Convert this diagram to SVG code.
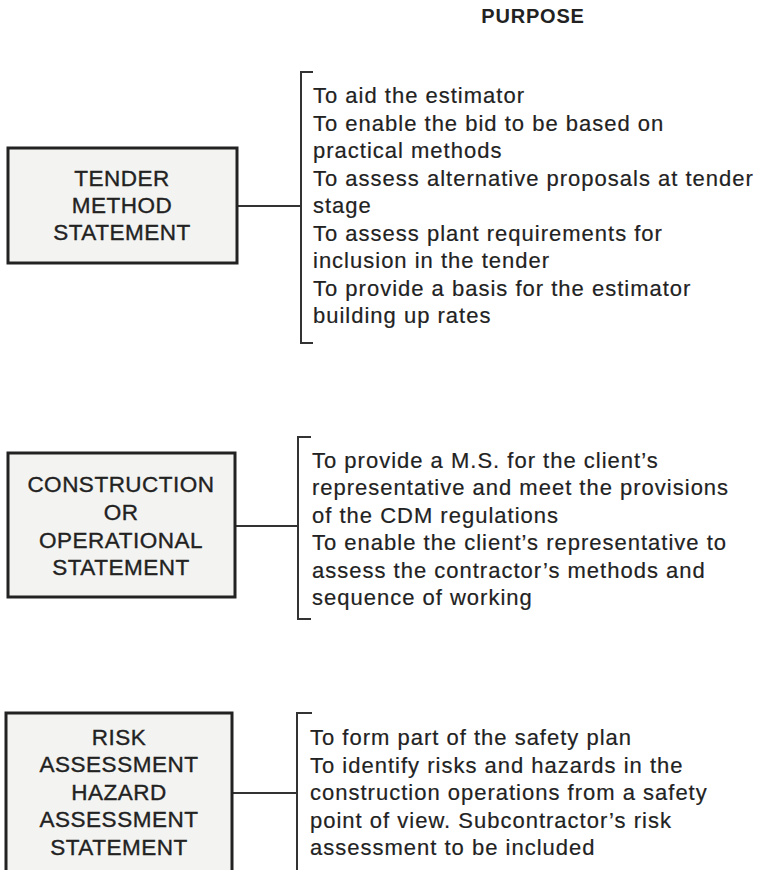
<svg xmlns="http://www.w3.org/2000/svg" width="760" height="870" viewBox="0 0 760 870">
  <style>
    .box { fill: #f3f3f1; stroke: #222; stroke-width: 3; }
    .box-label { font-family: "Liberation Sans", Arial, sans-serif; font-size: 22.5px; letter-spacing: 0.5px; fill: #222; stroke: #222; stroke-width: 0.35; text-anchor: middle; }
    .purpose { font-family: "Liberation Sans", Arial, sans-serif; font-size: 22px; letter-spacing: 1px; fill: #222; stroke: #222; stroke-width: 0.2; }
    .heading { font-family: "Liberation Sans", Arial, sans-serif; font-size: 20px; font-weight: bold; letter-spacing: 0.8px; fill: #222; text-anchor: middle; }
    .link { fill: none; stroke: #333; stroke-width: 2; }
  </style>
  <rect width="760" height="870" fill="#ffffff"/>

  <text id="heading" class="heading" x="533" y="23">PURPOSE</text>

  <!-- connectors: stub lines from each box and the brackets holding the purpose lists -->
  <g id="connectors">
    <line class="link" x1="237" y1="206" x2="301" y2="206"/>
    <polyline class="link" points="313,72 301,72 301,343 313,343"/>
    <line class="link" x1="235" y1="526" x2="298" y2="526"/>
    <polyline class="link" points="311,437 298,437 298,619 311,619"/>
    <line class="link" x1="232" y1="793" x2="297" y2="793"/>
    <polyline class="link" points="312,713 297,713 297,875"/>
  </g>

  <g id="tender-method-statement">
    <rect class="box" x="8" y="148" width="229" height="115"/>
    <text class="box-label" x="122" y="186">TENDER</text>
    <text class="box-label" x="122" y="213">METHOD</text>
    <text class="box-label" x="122" y="240">STATEMENT</text>
  </g>

  <g id="construction-statement">
    <rect class="box" x="8" y="453" width="227" height="144"/>
    <text class="box-label" x="121" y="492">CONSTRUCTION</text>
    <text class="box-label" x="121" y="520">OR</text>
    <text class="box-label" x="121" y="548">OPERATIONAL</text>
    <text class="box-label" x="121" y="575">STATEMENT</text>
  </g>

  <g id="risk-assessment-statement">
    <rect class="box" x="6" y="713" width="226" height="170"/>
    <text class="box-label" x="119" y="745">RISK</text>
    <text class="box-label" x="119" y="772">ASSESSMENT</text>
    <text class="box-label" x="119" y="800">HAZARD</text>
    <text class="box-label" x="119" y="827">ASSESSMENT</text>
    <text class="box-label" x="119" y="855">STATEMENT</text>
  </g>

  <g id="tender-purpose">
    <text class="purpose" x="313" y="103">To aid the estimator</text>
    <text class="purpose" x="313" y="130.5">To enable the bid to be based on</text>
    <text class="purpose" x="313" y="158">practical methods</text>
    <text class="purpose" x="313" y="185.5">To assess alternative proposals at tender</text>
    <text class="purpose" x="313" y="213">stage</text>
    <text class="purpose" x="313" y="240.5">To assess plant requirements for</text>
    <text class="purpose" x="313" y="268">inclusion in the tender</text>
    <text class="purpose" x="313" y="295.5">To provide a basis for the estimator</text>
    <text class="purpose" x="313" y="323">building up rates</text>
  </g>

  <g id="construction-purpose">
    <text class="purpose" x="312" y="467.5">To provide a M.S. for the client’s</text>
    <text class="purpose" x="312" y="495">representative and meet the provisions</text>
    <text class="purpose" x="312" y="522.5">of the CDM regulations</text>
    <text class="purpose" x="312" y="550">To enable the client’s representative to</text>
    <text class="purpose" x="312" y="577.5">assess the contractor’s methods and</text>
    <text class="purpose" x="312" y="605">sequence of working</text>
  </g>

  <g id="risk-purpose">
    <text class="purpose" x="310" y="745">To form part of the safety plan</text>
    <text class="purpose" x="310" y="773">To identify risks and hazards in the</text>
    <text class="purpose" x="310" y="800">construction operations from a safety</text>
    <text class="purpose" x="310" y="828">point of view. Subcontractor’s risk</text>
    <text class="purpose" x="310" y="855">assessment to be included</text>
  </g>
</svg>
